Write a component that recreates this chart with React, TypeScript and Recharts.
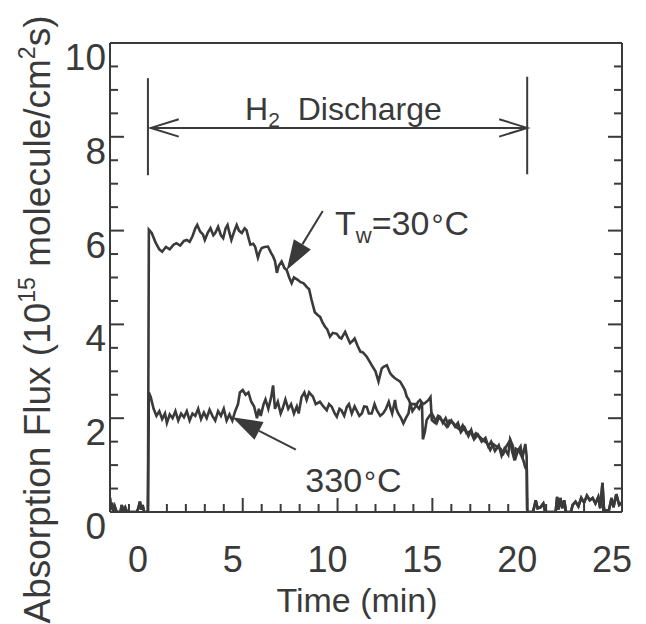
import React from 'react';
import { LineChart, Line, XAxis, YAxis, ReferenceLine, ReferenceDot } from 'recharts';

const INK = '#3a3a3a';
const FONT = '"Liberation Sans", Arial, Helvetica, sans-serif';

// detector baseline before the discharge is switched on (both runs)
const preBaseline: [number, number][] = [
  [-2, 0.3], [-1.95, 0.05], [-1.9, 0.2], [-1.82, 0.0], [-1.75, 0.12], [-1.65, 0.0],
  [-1.45, 0.0], [-1.38, 0.15], [-1.3, 0.02], [-1.2, 0.1], [-1.1, 0.0], [-0.6, 0.0],
  [-0.52, 0.06], [-0.42, 0.22], [-0.35, 0.05], [-0.28, 0.15], [-0.2, 0.0], [0, 0.0],
];

// baseline after the discharge is off
const postBaseline: [number, number][] = [
  [20.02, 0.0], [20.3, 0.0], [20.38, 0.12], [20.45, 0.25], [20.55, 0.08], [20.7, 0.1],
  [20.85, 0.18], [20.95, 0.0], [21.5, 0.0], [21.58, 0.32], [21.65, 0.05], [21.75, 0.3],
  [21.85, 0.08], [21.95, 0.25], [22.05, 0.0], [22.3, 0.0], [22.4, 0.15], [22.55, 0.22],
  [22.7, 0.12], [22.85, 0.3], [23.0, 0.2], [23.15, 0.35], [23.3, 0.25], [23.45, 0.3],
  [23.6, 0.18], [23.75, 0.32], [23.85, 0.08], [23.97, 0.62], [24.05, 0.05], [24.3, 0.02],
  [24.45, 0.3], [24.55, 0.1], [24.7, 0.38], [24.85, 0.15], [25, 0.2],
];

// wall temperature 30 C  [time (min), flux (1e15 molecule/cm2 s)]
const tw30Flux: [number, number][] = [
  [0.05, 6.02], [0.2, 5.95], [0.4, 5.75], [0.6, 5.6], [0.75, 5.55], [0.95, 5.65],
  [1.15, 5.6], [1.35, 5.7], [1.5, 5.73], [1.7, 5.68], [1.9, 5.78], [2.05, 5.8],
  [2.2, 5.76], [2.35, 5.88], [2.5, 6.05], [2.6, 6.12], [2.75, 5.98], [2.9, 5.92],
  [3.0, 5.8], [3.15, 5.95], [3.3, 6.05], [3.45, 5.9], [3.55, 5.95], [3.7, 6.08],
  [3.85, 5.9], [3.97, 5.84], [4.1, 6.05], [4.2, 6.12], [4.3, 5.95], [4.4, 5.8],
  [4.55, 5.98], [4.68, 6.12], [4.8, 6.0], [4.95, 5.95], [5.1, 6.05], [5.2, 6.01],
  [5.3, 5.85], [5.4, 5.7], [5.55, 5.72], [5.65, 5.66], [5.8, 5.42], [5.9, 5.55],
  [6.0, 5.63], [6.15, 5.65], [6.33, 5.66], [6.5, 5.52], [6.6, 5.45], [6.7, 5.35],
  [6.8, 5.1], [6.9, 5.25], [7.05, 5.34], [7.2, 5.2], [7.32, 5.16], [7.45, 5.0],
  [7.58, 4.88], [7.7, 5.0], [7.9, 4.95], [8.05, 4.9], [8.2, 4.88], [8.37, 4.8],
  [8.5, 4.75], [8.63, 4.52], [8.8, 4.26], [8.95, 4.2], [9.08, 4.16], [9.2, 4.05],
  [9.34, 3.95], [9.45, 3.9], [9.6, 3.74], [9.75, 3.82], [9.96, 3.8], [10.1, 3.72],
  [10.2, 3.7], [10.4, 3.84], [10.55, 3.7], [10.66, 3.6], [10.8, 3.65], [10.9, 3.7],
  [11.05, 3.55], [11.2, 3.42], [11.35, 3.4], [11.54, 3.31], [11.7, 3.2], [11.8, 3.13],
  [12.0, 3.0], [12.16, 2.78], [12.33, 3.06], [12.45, 3.1], [12.6, 3.13], [12.77, 2.96],
  [12.9, 2.9], [13.03, 2.85], [13.15, 2.82], [13.3, 2.78], [13.46, 2.67], [13.55, 2.6],
  [13.65, 2.46], [13.75, 2.4], [13.83, 2.32], [13.95, 2.3], [14.1, 2.3], [14.3, 2.2],
  [14.45, 2.35], [14.5, 1.55], [14.6, 1.7], [14.7, 1.96], [14.85, 2.05], [14.97, 2.1],
  [15.1, 2.0], [15.23, 1.9], [15.35, 2.02], [15.5, 1.96], [15.65, 1.88], [15.76, 1.82],
  [15.9, 1.95], [16.1, 1.9], [16.3, 1.8], [16.46, 1.75], [16.6, 1.85], [16.8, 1.68],
  [17.0, 1.72], [17.15, 1.6], [17.3, 1.68], [17.5, 1.6], [17.7, 1.52], [17.87, 1.47],
  [18.05, 1.32], [18.2, 1.45], [18.4, 1.39], [18.6, 1.35], [18.75, 1.25], [18.9, 1.4],
  [19.1, 1.53], [19.2, 1.3], [19.28, 1.18], [19.4, 1.35], [19.54, 1.32], [19.7, 1.2],
  [19.8, 1.1], [19.9, 0.95], [19.98, 0.9], [20.0, 0.05],
];

// wall temperature 330 C
const tw330Flux: [number, number][] = [
  [0.05, 2.55], [0.15, 2.45], [0.3, 2.2], [0.45, 2.05], [0.6, 2.15], [0.75, 1.98],
  [0.9, 2.1], [1.0, 1.9], [1.15, 2.08], [1.3, 2.0], [1.45, 2.15], [1.6, 1.95],
  [1.75, 2.1], [1.9, 2.02], [2.05, 2.15], [2.2, 1.95], [2.35, 2.1], [2.5, 2.05],
  [2.65, 2.2], [2.8, 1.98], [2.95, 2.12], [3.1, 2.0], [3.25, 2.18], [3.4, 2.05],
  [3.55, 1.95], [3.7, 2.15], [3.85, 2.05], [4.0, 2.2], [4.15, 1.95], [4.3, 2.08],
  [4.45, 1.95], [4.6, 2.15], [4.75, 2.3], [4.85, 2.55], [5.0, 2.6], [5.15, 2.5],
  [5.3, 2.55], [5.45, 2.35], [5.6, 2.25], [5.75, 2.0], [5.85, 2.2], [5.95, 2.05],
  [6.1, 2.3], [6.2, 2.4], [6.35, 2.2], [6.5, 2.45], [6.6, 2.7], [6.7, 2.2],
  [6.85, 2.35], [7.0, 2.1], [7.1, 2.2], [7.25, 2.4], [7.4, 2.2], [7.55, 2.3],
  [7.7, 2.1], [7.85, 2.25], [7.95, 2.1], [8.1, 2.45], [8.25, 2.55], [8.37, 2.39],
  [8.5, 2.55], [8.7, 2.46], [8.85, 2.3], [9.07, 2.35], [9.25, 2.25], [9.43, 2.17],
  [9.55, 2.3], [9.7, 2.24], [9.85, 2.1], [9.96, 2.03], [10.1, 2.2], [10.2, 2.17],
  [10.35, 2.05], [10.49, 2.24], [10.6, 2.3], [10.75, 2.1], [10.9, 2.25], [11.0, 2.17],
  [11.15, 2.05], [11.28, 2.1], [11.4, 2.25], [11.54, 2.24], [11.65, 2.1], [11.8, 2.1],
  [11.95, 2.3], [12.07, 2.17], [12.25, 2.05], [12.4, 2.1], [12.55, 2.2], [12.7, 2.35],
  [12.8, 2.2], [12.88, 2.1], [13.03, 2.39], [13.1, 2.2], [13.2, 2.1], [13.35, 2.0],
  [13.47, 1.89], [13.6, 2.0], [13.74, 2.1], [13.83, 2.32], [13.95, 2.15], [14.1, 2.24],
  [14.25, 2.35], [14.35, 2.39], [14.5, 2.3], [14.6, 2.32], [14.8, 2.39], [14.9, 2.45],
  [14.97, 1.96], [15.14, 1.9], [15.3, 2.05], [15.4, 2.03], [15.55, 1.9], [15.7, 2.0],
  [15.85, 1.85], [16.0, 1.95], [16.2, 1.82], [16.35, 1.9], [16.5, 1.7], [16.7, 1.8],
  [16.9, 1.62], [17.05, 1.75], [17.2, 1.55], [17.4, 1.65], [17.6, 1.5], [17.8, 1.58],
  [17.95, 1.4], [18.1, 1.5], [18.3, 1.3], [18.5, 1.42], [18.65, 1.2], [18.8, 1.35],
  [19.0, 1.22], [19.1, 1.55], [19.25, 1.4], [19.35, 1.1], [19.5, 1.3], [19.65, 1.4],
  [19.75, 1.15], [19.9, 1.45], [19.97, 1.2], [20.0, 0.05],
];

const xTicks = [-1, 0, 1, 2, 3, 4, 5, 6, 7, 8, 9, 10, 11, 12, 13, 14, 15, 16, 17, 18, 19, 20, 21, 22, 23, 24, 25];
const xLabelTicks = [0, 5, 10, 15, 20, 25];
const yTicks = [0, 0.5, 1, 1.5, 2, 2.5, 3, 3.5, 4, 4.5, 5, 5.5, 6, 6.5, 7, 7.5, 8, 8.5, 9, 9.5, 10];
const yLabelTicks = [0, 2, 4, 6, 8, 10];

const toSeries = (pts: [number, number][]) => pts.map(([t, flux]) => ({ t, flux }));
const run30 = toSeries([...preBaseline, ...tw30Flux, ...postBaseline]);
const run330 = toSeries([...preBaseline, ...tw330Flux, ...postBaseline]);

const MAJOR = 14;
const MINOR = 8;

function BottomTick({ x, y, payload }: any) {
  const major = xLabelTicks.includes(payload.value);
  return (
    <g>
      <line x1={x} y1={y} x2={x} y2={y - (major ? MAJOR : MINOR)} stroke={INK} strokeWidth={2} />
      {major && (
        <text x={x - 10} y={y + 60} textAnchor="middle" fontSize={36} fill={INK} fontFamily={FONT}>
          {payload.value}
        </text>
      )}
    </g>
  );
}

function TopTick({ x, y, payload }: any) {
  const major = xLabelTicks.includes(payload.value);
  return <line x1={x} y1={y} x2={x} y2={y + (major ? MAJOR : MINOR)} stroke={INK} strokeWidth={2} />;
}

function LeftTick({ x, y, payload }: any) {
  const major = yLabelTicks.includes(payload.value);
  return (
    <g>
      <line x1={x} y1={y} x2={x + (major ? MAJOR : MINOR)} y2={y} stroke={INK} strokeWidth={2} />
      {major && (
        <text x={x - 4} y={y + 27} textAnchor="end" fontSize={37} fill={INK} fontFamily={FONT}>
          {payload.value}
        </text>
      )}
    </g>
  );
}

function RightTick({ x, y, payload }: any) {
  const major = yLabelTicks.includes(payload.value);
  return <line x1={x} y1={y} x2={x - (major ? MAJOR : MINOR)} y2={y} stroke={INK} strokeWidth={2} />;
}

function FluxLabel({ viewBox }: any) {
  const x = viewBox.x + 50;
  const y = viewBox.y + viewBox.height / 2 + 42;
  return (
    <text x={x} y={y} transform={`rotate(-90 ${x} ${y})`} textAnchor="middle" fontSize={37} fill={INK} fontFamily={FONT}>
      Absorption Flux (10<tspan fontSize={23} dy={-15}>15</tspan>
      <tspan dy={15}> molecule/cm</tspan>
      <tspan fontSize={23} dy={-15}>2</tspan>
      <tspan dy={15}>s)</tspan>
    </text>
  );
}

function TimeLabel({ viewBox }: any) {
  return (
    <text x={viewBox.x + viewBox.width / 2 - 9} y={viewBox.y + 100} textAnchor="middle" fontSize={34} fill={INK} fontFamily={FONT}>
      Time (min)
    </text>
  );
}

// double-headed arrow with open heads
function SpanArrow({ x1, y1, x2, y2 }: any) {
  const h = 28;
  const w = 8.7;
  return (
    <g stroke={INK} strokeWidth={2} fill="none">
      <line x1={x1} y1={y1} x2={x2} y2={y2} />
      <polyline points={`${x1 + h},${y1 - w} ${x1},${y1} ${x1 + h},${y1 + w}`} />
      <polyline points={`${x2 - h},${y2 - w} ${x2},${y2} ${x2 - h},${y2 + w}`} />
    </g>
  );
}

// pointer with a filled head at the (x2, y2) end
function Pointer({ x1, y1, x2, y2 }: any) {
  const len = Math.hypot(x2 - x1, y2 - y1);
  const ux = (x2 - x1) / len;
  const uy = (y2 - y1) / len;
  const h = 30;
  const w = 10;
  const bx = x2 - ux * h;
  const by = y2 - uy * h;
  return (
    <g>
      <line x1={x1} y1={y1} x2={bx} y2={by} stroke={INK} strokeWidth={2} />
      <polygon points={`${x2},${y2} ${bx - uy * w},${by + ux * w} ${bx + uy * w},${by - ux * w}`} fill={INK} />
    </g>
  );
}

const Plain = ({ x1, y1, x2, y2 }: any) => <line x1={x1} y1={y1} x2={x2} y2={y2} stroke={INK} strokeWidth={2} />;

const DischargeText = ({ cx, cy }: any) => (
  <text x={cx} y={cy} fontSize={32} fill={INK} fontFamily={FONT}>
    H<tspan fontSize={21} dy={7}>2</tspan>
    <tspan dy={-7} dx={9}> Discharge</tspan>
  </text>
);

const Tw30Text = ({ cx, cy }: any) => (
  <text x={cx} y={cy} fontSize={34} fill={INK} fontFamily={FONT}>
    T<tspan fontSize={22} dy={8}>w</tspan>
    <tspan dy={-8}>=30</tspan>
    <tspan fontSize={30} dx={2}>°</tspan>
    <tspan dx={1}>C</tspan>
  </text>
);

const Tw330Text = ({ cx, cy }: any) => (
  <text x={cx} y={cy} fontSize={34} fill={INK} fontFamily={FONT}>
    330<tspan fontSize={30} dx={2}>°</tspan>
    <tspan dx={1}>C</tspan>
  </text>
);

export default function App() {
  return (
    <div style={{ position: 'absolute', left: 0, top: 0, width: 646, height: 624, background: '#fff' }}>
      <LineChart width={646} height={624} margin={{ top: 42, right: 23, bottom: 0, left: 0 }}>
        <XAxis
          xAxisId="bottom" type="number" dataKey="t" domain={[-2, 25]} allowDataOverflow
          ticks={xTicks} interval={0} height={112} tickSize={0} tickMargin={0} tickLine={false}
          axisLine={{ stroke: INK, strokeWidth: 2 }} tick={<BottomTick />}
          label={<TimeLabel />}
        />
        <XAxis
          xAxisId="top" orientation="top" type="number" domain={[-2, 25]} allowDataOverflow
          ticks={xTicks} interval={0} height={1} tickSize={0} tickMargin={0} tickLine={false}
          axisLine={{ stroke: INK, strokeWidth: 2 }} tick={<TopTick />}
        />
        <YAxis
          yAxisId="left" type="number" domain={[0, 10]} allowDataOverflow
          ticks={yTicks} interval={0} width={110} tickSize={0} tickMargin={0} tickLine={false}
          axisLine={{ stroke: INK, strokeWidth: 2 }} tick={<LeftTick />}
          label={<FluxLabel />}
        />
        <YAxis
          yAxisId="right" orientation="right" type="number" domain={[0, 10]} allowDataOverflow
          ticks={yTicks} interval={0} width={1} tickSize={0} tickMargin={0} tickLine={false}
          axisLine={{ stroke: INK, strokeWidth: 2 }} tick={<RightTick />}
        />

        <Line xAxisId="bottom" yAxisId="left" data={run330} dataKey="flux" type="linear"
          stroke={INK} strokeWidth={2.6} dot={false} isAnimationActive={false} />
        <Line xAxisId="bottom" yAxisId="left" data={run30} dataKey="flux" type="linear"
          stroke={INK} strokeWidth={2.6} dot={false} isAnimationActive={false} />

        <ReferenceLine xAxisId="bottom" yAxisId="left" segment={[{ x: 0, y: 7.18 }, { x: 0, y: 9.25 }]} shape={Plain} />
        <ReferenceLine xAxisId="bottom" yAxisId="left" segment={[{ x: 20, y: 7.2 }, { x: 20, y: 9.28 }]} shape={Plain} />
        <ReferenceLine xAxisId="bottom" yAxisId="left" segment={[{ x: 0.15, y: 8.19 }, { x: 20, y: 8.19 }]} shape={SpanArrow} />
        <ReferenceLine xAxisId="bottom" yAxisId="left" segment={[{ x: 9.22, y: 6.42 }, { x: 7.32, y: 5.16 }]} shape={Pointer} />
        <ReferenceLine xAxisId="bottom" yAxisId="left" segment={[{ x: 7.8, y: 1.33 }, { x: 4.45, y: 2.02 }]} shape={Pointer} />

        <ReferenceDot xAxisId="bottom" yAxisId="left" x={5.12} y={8.36} r={0} shape={DischargeText} />
        <ReferenceDot xAxisId="bottom" yAxisId="left" x={9.87} y={5.91} r={0} shape={Tw30Text} />
        <ReferenceDot xAxisId="bottom" yAxisId="left" x={8.3} y={0.43} r={0} shape={Tw330Text} />
      </LineChart>
    </div>
  );
}
